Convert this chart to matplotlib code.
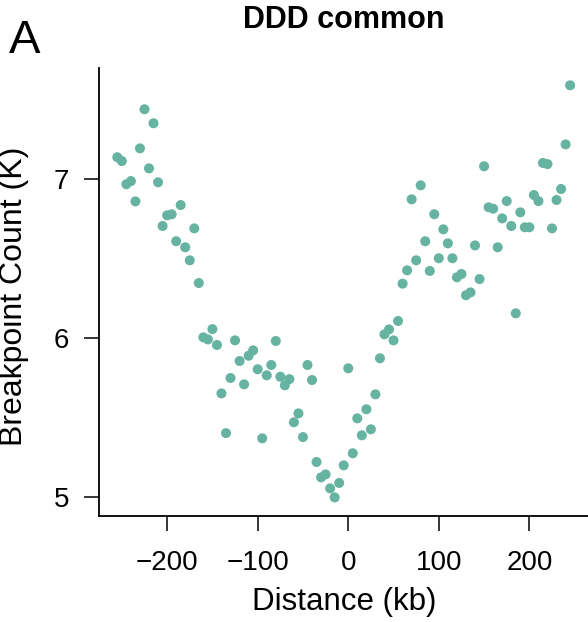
import matplotlib
matplotlib.use("Agg")
import matplotlib.pyplot as plt

plt.rcParams['font.family'] = ['Liberation Sans', 'DejaVu Sans']

# Distance from breakpoint (kb)
distance = [-255, -250, -245, -240, -235, -230, -225, -220, -215, -210,
	-205, -200, -195, -190, -185, -180, -175, -170, -165, -160,
	-155, -150, -145, -140, -135, -130, -125, -120, -115, -110,
	-105, -100, -95, -90, -85, -80, -75, -70, -65, -60,
	-55, -50, -45, -40, -35, -30, -25, -20, -15, -10,
	-5, 0, 5, 10, 15, 20, 25, 30, 35, 40,
	45, 50, 55, 60, 65, 70, 75, 80, 85, 90,
	95, 100, 105, 110, 115, 120, 125, 130, 135, 140,
	145, 150, 155, 160, 165, 170, 175, 180, 185, 190,
	195, 200, 205, 210, 215, 220, 225, 230, 235, 240,
	245]

# Breakpoint count (thousands)
count = [7.139, 7.115, 6.969, 6.989, 6.861, 7.195, 7.441, 7.069, 7.353, 6.981,
	6.706, 6.773, 6.780, 6.610, 6.838, 6.572, 6.490, 6.691, 6.347, 6.005,
	5.992, 6.057, 5.957, 5.652, 5.402, 5.749, 5.986, 5.856, 5.709, 5.889,
	5.923, 5.804, 5.369, 5.766, 5.831, 5.982, 5.757, 5.703, 5.742, 5.470,
	5.526, 5.377, 5.831, 5.736, 5.220, 5.123, 5.142, 5.054, 4.997, 5.088,
	5.199, 5.810, 5.275, 5.495, 5.388, 5.552, 5.426, 5.646, 5.873, 6.024,
	6.055, 5.986, 6.108, 6.343, 6.427, 6.874, 6.490, 6.962, 6.610, 6.423,
	6.780, 6.503, 6.685, 6.597, 6.503, 6.383, 6.404, 6.270, 6.288, 6.584,
	6.372, 7.082, 6.824, 6.815, 6.572, 6.754, 6.863, 6.706, 6.156, 6.792,
	6.698, 6.698, 6.901, 6.863, 7.103, 7.096, 6.691, 6.870, 6.939, 7.220,
	7.592]

xticks = [-200, -100, 0, 100, 200]
yticks = [5, 6, 7]

fig = plt.figure(figsize=(5.88, 6.22), dpi=100)
ax = fig.add_axes([0.1684, 0.1704, 0.8474, 0.7203])

ax.scatter(distance, count, s=52, color="#66b3a1", edgecolors="none", zorder=3)

ax.set_xlim(-275.2, 275)
ax.set_ylim(4.880, 7.701)
ax.set_xticks(xticks)
ax.set_yticks(yticks)
ax.set_xticklabels(["\u2212200", "\u2212100", "0", "100", "200"])

for side in ["top", "right"]:
	ax.spines[side].set_visible(False)
for side in ["left", "bottom"]:
	ax.spines[side].set_linewidth(1.3)
ax.tick_params(direction="out", length=10.5, width=1.1, labelsize=20)
ax.tick_params(axis="x", pad=14)
ax.tick_params(axis="y", pad=11)

fig.text(0.585, 0.02, "Distance (kb)", fontsize=22.5, ha="center", va="baseline")
fig.text(0.050, 0.524, "Breakpoint Count (K)", fontsize=23, rotation=90,
	ha="right", va="center")
fig.text(0.585, 0.955, "DDD common", fontsize=22, fontweight="bold",
	ha="center", va="baseline")
fig.text(0.015, 0.915, "A", fontsize=34, ha="left", va="baseline")

plt.savefig("out.png", dpi=100)
